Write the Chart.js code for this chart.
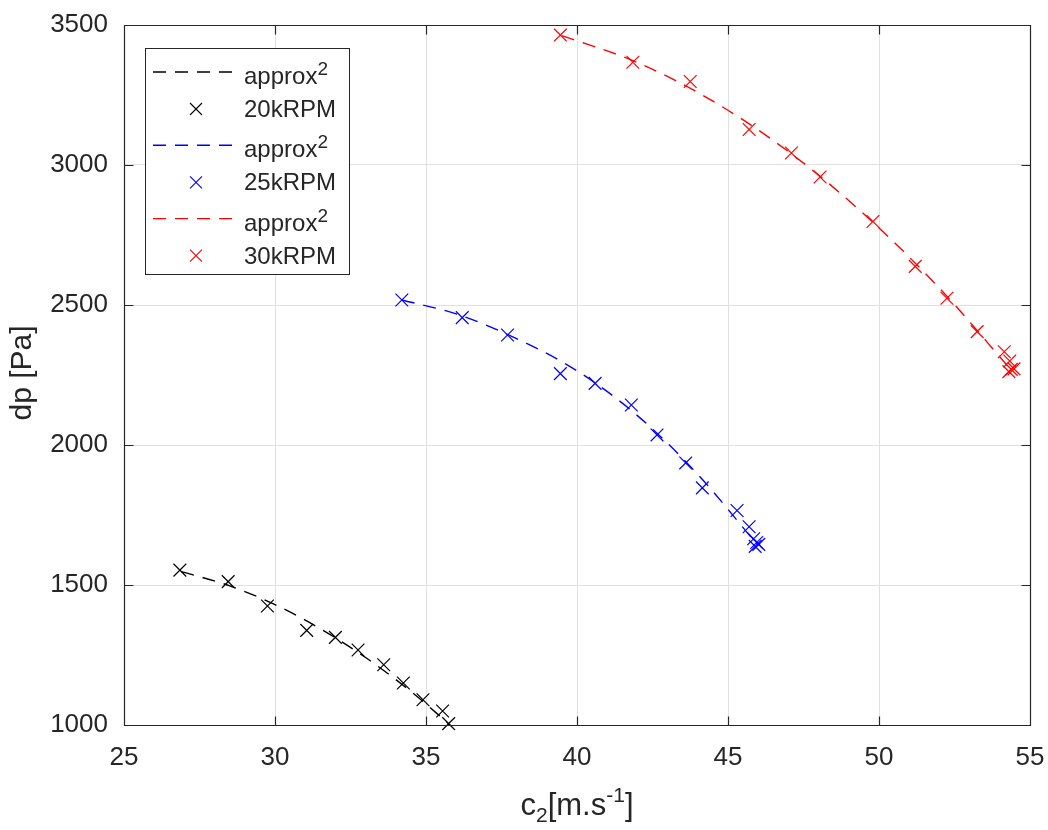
<!DOCTYPE html>
<html lang="en">
<head>
    <meta charset="UTF-8">
    <title>dp vs c2</title>
    <script src="https://cdn.jsdelivr.net/npm/chart.js"></script>
    <style>
        body { margin: 0; background: #fff; }
        .chart-box { width: 1048px; height: 830px; position: relative; }
    </style>
</head>
<body>
    <div class="chart-box"><canvas id="dpChart"></canvas></div>

    <script>
        // measured points (c2 in m/s, dp in Pa)
        const rpm20C2 = [26.85, 28.45, 29.75, 31.05, 32.0, 32.75, 33.6, 34.25, 34.9, 35.55, 35.75];
        const rpm20Dp = [1553, 1512, 1425, 1338, 1313, 1268, 1215, 1150, 1090, 1050, 1005];
        const rpm25C2 = [34.2, 36.2, 37.7, 39.45, 40.6, 41.8, 42.65, 43.6, 44.15, 45.3, 45.7, 45.85, 45.95, 45.9, 46.02];
        const rpm25Dp = [2518, 2455, 2393, 2255, 2220, 2143, 2036, 1936, 1847, 1766, 1708, 1665, 1652, 1638, 1645];
        const rpm30C2 = [39.45, 41.85, 43.75, 45.7, 47.1, 48.05, 49.8, 51.2, 52.25, 53.25, 54.15, 54.33, 54.38, 54.3, 54.47];
        const rpm30Dp = [3464, 3367, 3298, 3127, 3043, 2957, 2798, 2638, 2524, 2405, 2333, 2300, 2270, 2262, 2272];

        // approx^2 curves
        const fit20C2 = [26.9, 28.5, 30, 31.5, 33, 34.5, 35.8];
        const fit20Dp = [1548, 1497, 1430, 1344, 1241, 1120, 1000];
        const fit25C2 = [34.2, 36, 38, 40, 42, 44, 46];
        const fit25Dp = [2518, 2468, 2380, 2265, 2105, 1895, 1640];
        const fit30C2 = [39.5, 42, 44.5, 47, 49.5, 52, 54.4];
        const fit30Dp = [3462, 3366, 3228, 3048, 2825, 2560, 2265];

        const xTicks = [25, 30, 35, 40, 45, 50, 55];
        const yTicks = [1000, 1500, 2000, 2500, 3000, 3500];
        const seriesNames = ['20kRPM', '25kRPM', '30kRPM'];
        const fitName = 'approx';

        const seriesColors = ['#000000', '#0000ff', '#ff0000'];
        const axisColor = '#262626';
        const fontFamily = '"Liberation Sans", Arial, Helvetica, sans-serif';
        const dash = [13, 9];

        function toPoints(xs, ys) {
            return xs.map((x, i) => ({ x: x, y: ys[i] }));
        }

        const fits = [[fit20C2, fit20Dp], [fit25C2, fit25Dp], [fit30C2, fit30Dp]];
        const measured = [[rpm20C2, rpm20Dp], [rpm25C2, rpm25Dp], [rpm30C2, rpm30Dp]];

        const datasets = [];
        seriesNames.forEach((name, i) => {
            datasets.push({
                label: fitName,
                data: toPoints(fits[i][0], fits[i][1]),
                showLine: true,
                borderColor: seriesColors[i],
                borderWidth: 1.4,
                borderDash: dash,
                cubicInterpolationMode: 'monotone',
                pointRadius: 0
            });
            datasets.push({
                label: name,
                data: toPoints(measured[i][0], measured[i][1]),
                showLine: false,
                pointStyle: 'crossRot',
                pointRadius: 9,
                pointBorderWidth: 1.2,
                borderColor: seriesColors[i],
                backgroundColor: seriesColors[i],
                clip: false
            });
        });

        // draws text made of runs, e.g. normal + sub/superscript pieces
        function runsWidth(ctx, runs) {
            let w = 0;
            runs.forEach(r => {
                ctx.font = r.size + 'px ' + fontFamily;
                w += ctx.measureText(r.text).width;
            });
            return w;
        }
        function drawRuns(ctx, x, baseline, runs) {
            runs.forEach(r => {
                ctx.font = r.size + 'px ' + fontFamily;
                ctx.fillText(r.text, x, baseline + (r.dy || 0));
                x += ctx.measureText(r.text).width;
            });
        }

        const frameAndLegend = {
            id: 'frameAndLegend',
            afterDatasetsDraw(chart) {
                const { ctx, chartArea: a, scales: { x, y } } = chart;
                const L = Math.round(a.left) + 0.5, R = Math.round(a.right) + 0.5;
                const T = Math.round(a.top) + 0.5, B = Math.round(a.bottom) + 0.5;
                ctx.save();
                ctx.strokeStyle = axisColor;
                ctx.lineWidth = 1.2;
                ctx.beginPath();
                ctx.rect(L, T, R - L, B - T);
                // inward ticks on all four sides
                xTicks.forEach(v => {
                    const px = Math.round(x.getPixelForValue(v)) + 0.5;
                    ctx.moveTo(px, B); ctx.lineTo(px, B - 9);
                    ctx.moveTo(px, T); ctx.lineTo(px, T + 9);
                });
                yTicks.forEach(v => {
                    const py = Math.round(y.getPixelForValue(v)) + 0.5;
                    ctx.moveTo(L, py); ctx.lineTo(L + 9, py);
                    ctx.moveTo(R, py); ctx.lineTo(R - 9, py);
                });
                ctx.stroke();
                ctx.restore();
            },
            afterDraw(chart) {
                const ctx = chart.ctx;
                ctx.save();

                // legend box
                const box = { left: 145.5, top: 48.5, width: 204, height: 226 };
                ctx.fillStyle = '#fff';
                ctx.fillRect(box.left, box.top, box.width, box.height);
                ctx.strokeStyle = axisColor;
                ctx.lineWidth = 1;
                ctx.strokeRect(box.left, box.top, box.width, box.height);

                ctx.textAlign = 'left';
                ctx.textBaseline = 'alphabetic';
                seriesNames.forEach((name, i) => {
                    const lineY = 72 + i * 73.3;
                    const markY = lineY + 37;
                    const col = seriesColors[i];

                    ctx.strokeStyle = col;
                    ctx.lineWidth = 1.4;
                    ctx.setLineDash(dash);
                    ctx.beginPath();
                    ctx.moveTo(153, lineY);
                    ctx.lineTo(235, lineY);
                    ctx.stroke();
                    ctx.setLineDash([]);

                    ctx.lineWidth = 1.1;
                    ctx.beginPath();
                    ctx.moveTo(190, markY - 6); ctx.lineTo(202, markY + 6);
                    ctx.moveTo(190, markY + 6); ctx.lineTo(202, markY - 6);
                    ctx.stroke();

                    ctx.fillStyle = axisColor;
                    drawRuns(ctx, 244, lineY + 12, [
                        { text: fitName, size: 24 },
                        { text: '2', size: 19, dy: -9 }
                    ]);
                    ctx.font = '24px ' + fontFamily;
                    ctx.fillText(name, 244, markY + 8);
                });

                // x axis title: c2[m.s-1]
                ctx.fillStyle = axisColor;
                const xRuns = [
                    { text: 'c', size: 31 },
                    { text: '2', size: 21, dy: 7 },
                    { text: '[m.s', size: 31 },
                    { text: '-1', size: 21, dy: -13 },
                    { text: ']', size: 31 }
                ];
                const xw = runsWidth(ctx, xRuns);
                drawRuns(ctx, 577 - xw / 2, 815, xRuns);

                // y axis title
                ctx.translate(31, 373);
                ctx.rotate(-Math.PI / 2);
                ctx.textAlign = 'center';
                ctx.font = '30px ' + fontFamily;
                ctx.fillText('dp [Pa]', 0, 0);

                ctx.restore();
            }
        };

        const ctx = document.getElementById('dpChart').getContext('2d');
        new Chart(ctx, {
            type: 'scatter',
            data: { datasets: datasets },
            options: {
                responsive: true,
                maintainAspectRatio: false,
                animation: false,
                events: [],
                layout: { padding: { top: 25, right: 18, left: 0, bottom: 0 } },
                plugins: {
                    legend: { display: false },
                    tooltip: { enabled: false }
                },
                scales: {
                    x: {
                        type: 'linear',
                        min: xTicks[0],
                        max: xTicks[xTicks.length - 1],
                        afterFit: s => { s.height = 105; s.paddingLeft = 0; s.paddingRight = 0; },
                        afterBuildTicks: s => { s.ticks = xTicks.map(v => ({ value: v })); },
                        ticks: {
                            color: axisColor,
                            padding: 17,
                            maxRotation: 0,
                            callback: v => String(v),
                            font: { size: 26, family: fontFamily }
                        },
                        grid: { color: '#e0e0e0', drawTicks: false },
                        border: { display: false }
                    },
                    y: {
                        type: 'linear',
                        min: yTicks[0],
                        max: yTicks[yTicks.length - 1],
                        afterFit: s => { s.width = 124; s.paddingTop = 0; s.paddingBottom = 0; },
                        afterBuildTicks: s => { s.ticks = yTicks.map(v => ({ value: v })); },
                        ticks: {
                            color: axisColor,
                            padding: 16,
                            callback: v => String(v),
                            font: { size: 26, family: fontFamily }
                        },
                        grid: { color: '#e0e0e0', drawTicks: false },
                        border: { display: false }
                    }
                }
            },
            plugins: [frameAndLegend]
        });
    </script>
</body>
</html>
